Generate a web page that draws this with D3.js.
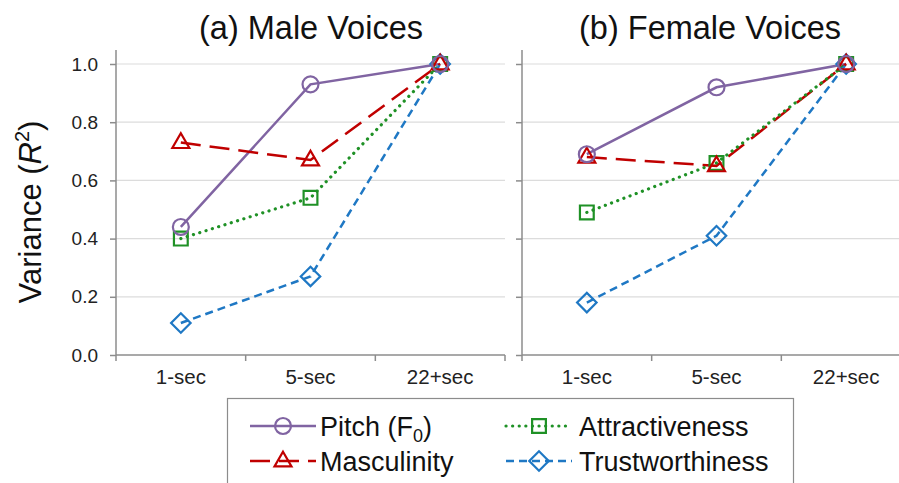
<!DOCTYPE html>
<html><head><meta charset="utf-8">
<script src="https://cdn.jsdelivr.net/npm/d3@7"></script>
<style>
html,body{margin:0;padding:0;background:#fff;}
svg{display:block;font-family:"Liberation Sans",Arial,sans-serif;}
</style></head>
<body>
<svg id="c" width="899" height="483"></svg>
<script>
const categories = ["1-sec", "5-sec", "22+sec"];
const yTicks = [0, 0.2, 0.4, 0.6, 0.8, 1.0];
const panelTitles = ["(a) Male Voices", "(b) Female Voices"];
const seriesNames = ["Pitch (F0)", "Masculinity", "Attractiveness", "Trustworthiness"];
// Male voices
const malePitch = [0.44, 0.93, 1.0];
const maleMasculinity = [0.73, 0.67, 1.0];
const maleAttractiveness = [0.40, 0.54, 1.0];
const maleTrustworthiness = [0.11, 0.27, 1.0];
// Female voices
const femalePitch = [0.69, 0.92, 1.0];
const femaleMasculinity = [0.68, 0.65, 1.0];
const femaleAttractiveness = [0.49, 0.66, 1.0];
const femaleTrustworthiness = [0.18, 0.41, 1.0];

const styles = [
  {color:"#8064a2", dash:null, cap:"butt", width:2.5, sym:"circle"},
  {color:"#c00000", dash:"20,9", cap:"butt", width:2.5, sym:"triangle"},
  {color:"#1f9126", dash:"0.1,6.5", cap:"round", width:3.2, sym:"square"},
  {color:"#1f78c4", dash:"8,5", cap:"butt", width:2.5, sym:"diamond"}
];
const panels = [
  {x0:116, x1:505, title:panelTitles[0], showLabels:true,
   data:[malePitch, maleMasculinity, maleAttractiveness, maleTrustworthiness]},
  {x0:522, x1:911, title:panelTitles[1], showLabels:false,
   data:[femalePitch, femaleMasculinity, femaleAttractiveness, femaleTrustworthiness]}
];

const svg = d3.select("#c");
const y = d3.scaleLinear().domain([0,1]).range([355,64]);
const yTop = y(1.048);

function symPath(kind){
  if(kind==="circle") return d3.symbol(d3.symbolCircle, 200)();
  if(kind==="triangle") return d3.symbol(d3.symbolTriangle, 125)();
  if(kind==="square") return d3.symbol(d3.symbolSquare, 190)();
  if(kind==="diamond") return d3.symbol(d3.symbolSquare, 190)();
}
function drawMarker(g, kind, cx, cy, color){
  g.append("path").attr("d", symPath(kind))
    .attr("transform", `translate(${cx},${cy})` + (kind==="diamond" ? " rotate(45)" : "") + (kind==="triangle" ? " translate(0,0.5)" : ""))
    .attr("fill","none").attr("stroke",color).attr("stroke-width",2.2);
}

panels.forEach(p => {
  const x = d3.scaleBand().domain(categories).range([p.x0, p.x1]).padding(0);
  const g = svg.append("g");
  g.selectAll("line.grid").data(yTicks.filter(d=>d>0)).enter().append("line")
    .attr("x1", p.x0).attr("x2", p.x1).attr("y1", d=>y(d)).attr("y2", d=>y(d))
    .attr("stroke","#dcdcdc").attr("stroke-width",1.2);
  const yAxis = d3.axisLeft(y).tickValues(yTicks).tickSize(6).tickPadding(12)
    .tickFormat(p.showLabels ? d3.format(".1f") : () => "");
  const ya = g.append("g").attr("transform", `translate(${p.x0},0)`).call(yAxis);
  ya.select(".domain").remove();
  ya.append("line").attr("x1",0).attr("x2",0).attr("y1",yTop).attr("y2",y(0)).attr("stroke","#8c8c8c").attr("stroke-width",1.5);
  ya.selectAll(".tick line").attr("stroke","#8c8c8c").attr("stroke-width",1.5);
  ya.selectAll(".tick text").attr("font-size",19).attr("fill","#222").attr("font-family","Liberation Sans, Arial, sans-serif");
  const xAxis = d3.axisBottom(x).tickSize(0).tickPadding(14);
  const xa = g.append("g").attr("transform", `translate(0,${y(0)})`).call(xAxis);
  xa.select(".domain").remove();
  xa.append("line").attr("x1",p.x0).attr("x2",p.x1).attr("y1",0).attr("y2",0).attr("stroke","#8c8c8c").attr("stroke-width",1.5);
  const edges = [p.x0].concat(categories.map(c => x(c) + x.bandwidth()));
  xa.selectAll("line.tk").data(edges).enter().append("line")
    .attr("x1",d=>d).attr("x2",d=>d).attr("y1",0).attr("y2",6).attr("stroke","#8c8c8c").attr("stroke-width",1.5);
  xa.selectAll(".tick text").attr("font-size",20.5).attr("fill","#222").attr("dy","0.71em").attr("font-family","Liberation Sans, Arial, sans-serif");
  svg.append("text").attr("x", p.showLabels ? 311 : 710).attr("y", 39)
    .attr("text-anchor","middle").attr("font-size",32.5).attr("fill","#111").text(p.title);
  const cx = c => x(c) + x.bandwidth()/2;
  [0,1,2,3].forEach(i => {
    const st = styles[i];
    const line = d3.line().x((d,j)=>cx(categories[j])).y(d=>y(d));
    g.append("path").datum(p.data[i]).attr("d", line)
      .attr("fill","none").attr("stroke", st.color).attr("stroke-width", st.width)
      .attr("stroke-dasharray", st.dash).attr("stroke-linecap", st.cap);
  });
  [3,2,1,0].forEach(i => {
    const st = styles[i];
    p.data[i].forEach((v,j) => drawMarker(g, st.sym, cx(categories[j]), y(v), st.color));
  });
});

const yl = svg.append("text").attr("transform","translate(41,212) rotate(-90)")
  .attr("text-anchor","middle").attr("font-size",31).attr("fill","#111");
yl.append("tspan").text("Variance (");
yl.append("tspan").attr("font-style","italic").text("R");
yl.append("tspan").attr("font-size",20).attr("dy",-12).text("2");
yl.append("tspan").attr("dy",12).text(")");

const lg = svg.append("g");
lg.append("rect").attr("x",227.5).attr("y",398.5).attr("width",566).attr("height",120)
  .attr("fill","#fff").attr("stroke","#8c8c8c").attr("stroke-width",1.2);
const legPos = [
  {lx:250, ly:426, tx:320},
  {lx:250, ly:461, tx:320},
  {lx:506, ly:426, tx:579},
  {lx:506, ly:461, tx:579}
];
seriesNames.forEach((name,i) => {
  const st = styles[i], lp = legPos[i];
  lg.append("line").attr("x1",lp.lx).attr("x2",lp.lx+66).attr("y1",lp.ly).attr("y2",lp.ly)
    .attr("stroke",st.color).attr("stroke-width",st.width).attr("stroke-dasharray",st.dash).attr("stroke-linecap",st.cap);
  drawMarker(lg, st.sym, lp.lx+33, lp.ly, st.color);
  const t = lg.append("text").attr("x",lp.tx).attr("y",lp.ly+9.5).attr("font-size",27).attr("fill","#111");
  if(i===0){
    t.append("tspan").text("Pitch (F");
    t.append("tspan").attr("font-size",18).attr("dy",6).text("0");
    t.append("tspan").attr("dy",-6).text(")");
  } else t.text(name);
});
</script>
</body></html>
